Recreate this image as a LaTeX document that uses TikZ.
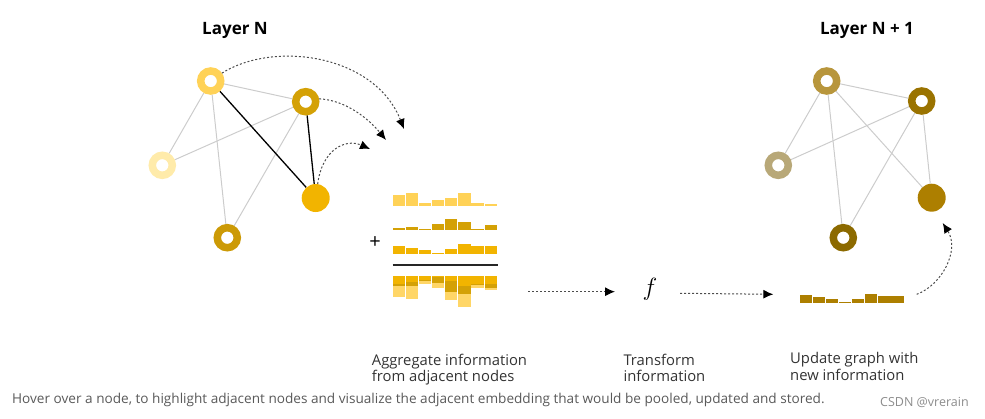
\documentclass[tikz,border=0pt]{standalone}
\usepackage{fontspec}
\setmainfont{Open Sans}
\usetikzlibrary{arrows.meta,backgrounds}
\definecolor{cA}{HTML}{FFD257}
\definecolor{cB}{HTML}{D4A106}
\definecolor{cC}{HTML}{FFEBAA}
\definecolor{cD}{HTML}{F2B400}
\definecolor{cE}{HTML}{CC9A06}
\definecolor{rA}{HTML}{B8963C}
\definecolor{rB}{HTML}{9A7300}
\definecolor{rC}{HTML}{B8A878}
\definecolor{rD}{HTML}{AD7F00}
\definecolor{rE}{HTML}{8C6A00}
\definecolor{edgegray}{HTML}{CCCCCC}
\definecolor{txt}{HTML}{333333}
\tikzset{
  ring/.style={circle,draw=#1,fill=white,line width=7.5pt,minimum size=20pt,inner sep=0pt},
  solidnode/.style={circle,fill=#1,minimum size=28pt,inner sep=0pt},
  softedge/.style={draw=edgegray,line width=1pt},
  hardedge/.style={draw=black,line width=1.3pt},
  flow/.style={draw=black!70,line width=1pt,dash pattern=on 2pt off 2pt,-{Latex[length=10pt,width=9pt,black]}},
  title/.style={font=\fontsize{17}{20}\selectfont\bfseries,text=black},
  label/.style={font=\fontsize{14.8}{16.7}\selectfont,text=txt,align=left,anchor=base west,inner sep=0pt},
}
\begin{document}
\begin{tikzpicture}[x=1pt,y=-1pt]
\useasboundingbox (0,0) rectangle (985,418);

% titles
\node[title] (tN) at (235,30) {Layer N};
\node[title] (tN1) at (867,30) {Layer N + 1};

% left graph
\node[ring=cA] (A) at (210.7,81) {};
\node[ring=cB] (B) at (305.7,101.7) {};
\node[ring=cC] (C) at (162.3,165.3) {};
\node[solidnode=cD] (D) at (315.7,198) {};
\node[ring=cE] (E) at (227.3,237.7) {};
\begin{scope}[on background layer]
\draw[softedge] (A) -- (B);
\draw[softedge] (A) -- (C);
\draw[softedge] (A) -- (E);
\draw[softedge] (B) -- (C);
\draw[softedge] (B) -- (E);
\draw[hardedge] (A) -- (D);
\draw[hardedge] (B) -- (D);
\end{scope}

% right graph
\node[ring=rA] (A2) at (826.7,81) {};
\node[ring=rB] (B2) at (921.7,101) {};
\node[ring=rC] (C2) at (778.3,165.3) {};
\node[solidnode=rD] (D2) at (931.7,197.7) {};
\node[ring=rE] (E2) at (843.3,237.7) {};
\begin{scope}[on background layer]
\draw[softedge] (A2) -- (B2);
\draw[softedge] (A2) -- (C2);
\draw[softedge] (A2) -- (E2);
\draw[softedge] (A2) -- (D2);
\draw[softedge] (B2) -- (C2);
\draw[softedge] (B2) -- (E2);
\draw[softedge] (B2) -- (D2);
\end{scope}

% gather arrows
\coordinate (g1) at (404,129);
\coordinate (g2) at (386,140);
\coordinate (g3) at (370,149);
\draw[flow] (A.35) .. controls (275,40) and (375,55) .. (g1);
\draw[flow] (B.12) .. controls (345,100) and (368,118) .. (g2);
\draw[flow] (D.82) .. controls (322,150) and (345,138) .. (g3);

% aggregated bars
\def\bw{12.3}
\def\bs{13.12}
\def\bx{392.7}
\foreach \h [count=\i from 0] in {10.7,13,3,5.3,7.7,13,3,1.7}
  \fill[cA] (\bx+\i*\bs,205.7) rectangle ++(\bw,-\h);
\foreach \h [count=\i from 0] in {2,3.3,1,5.7,11,7.7,1,4.7}
  \fill[cB] (\bx+\i*\bs,230) rectangle ++(\bw,-\h);
\foreach \h [count=\i from 0] in {8.3,6.3,4,1.3,5.3,10,7.7,7.7}
  \fill[cD] (\bx+\i*\bs,254) rectangle ++(\bw,-\h);
\node[font=\fontsize{20}{20}\selectfont,inner sep=0pt] (plus) at (375,243) {+};
\coordinate (sumL) at (392.7,265);
\coordinate (sumR) at (497.7,265);
\draw[black!85,line width=1.2pt] (sumL) -- (sumR);
\foreach \a/\b/\c [count=\i from 0] in {8.3/2/10.7,6.3/3.3/13,4/1/3,1.3/5.7/5.3,5.3/11/7.7,10/7.7/13,7.7/1/3,7.7/4.7/1.7}{
  \fill[cD] (\bx+\i*\bs,276) rectangle ++(\bw,\a);
  \fill[cB] (\bx+\i*\bs,276+\a) rectangle ++(\bw,\b);
  \fill[cA,opacity=0.9] (\bx+\i*\bs,276+\a+\b) rectangle ++(\bw,\c);
}

% transform
\coordinate (a1s) at (528,291.7);
\node[font=\fontsize{28}{28}\selectfont,inner sep=0pt] (f) at (650,289) {$f$};
\draw[flow] (a1s) -- (615,291.7) coordinate (a1e);
\coordinate (a2s) at (680,293.3);
\draw[flow] (a2s) -- (773.3,294.3) coordinate (a2e);

% update bars
\foreach \h [count=\i from 0] in {8.3,6,4,1.3,4.7,9.3,7.3,7.3}
  \fill[rD] (800+\i*13.05,303.3) rectangle ++(12.2,-\h);
\coordinate (u1) at (916.7,294.3);
\coordinate (u2) at (942.7,223);
\draw[flow] (u1) .. controls (942,285) and (960,250) .. (u2);

% labels (base = last line)
\node[label] (l1) at (371.7,381.7) {Aggregate information\\from adjacent nodes};
\node[label] (l2) at (623.3,381.7) {Transform\\information};
\node[label] (l3) at (790,380) {Update graph with\\new information};

\node[font=\fontsize{13.6}{15}\selectfont,text=black!65,anchor=base west,inner sep=0pt] (foot) at (12,403) {Hover over a node, to highlight adjacent nodes and visualize the adjacent embedding that would be pooled, updated and stored.};
\node[font=\fontsize{12.5}{14}\selectfont,text=black!45,anchor=base west,inner sep=0pt] (csdn) at (880,406.7) {CSDN @vrerain};
\end{tikzpicture}
\end{document}
